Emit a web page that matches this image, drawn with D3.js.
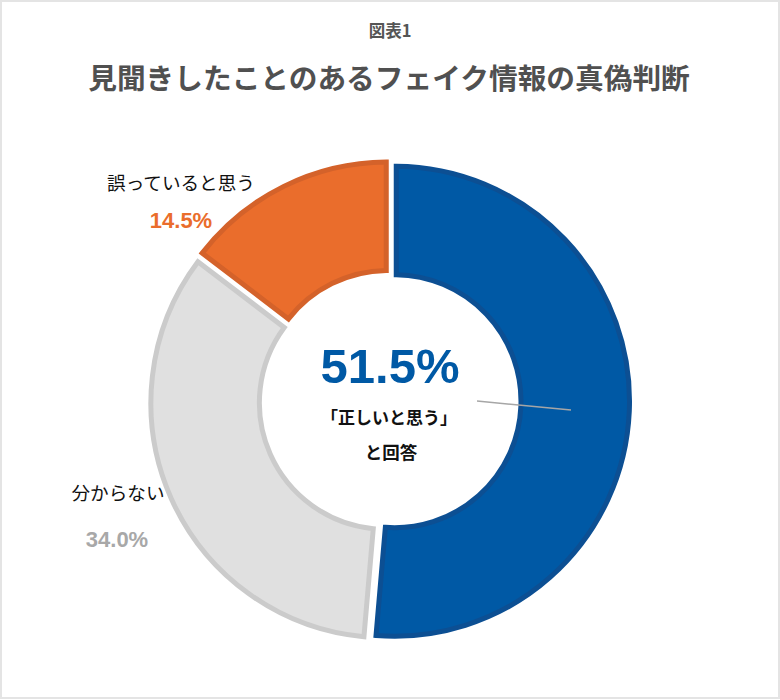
<!DOCTYPE html>
<html>
<head>
<meta charset="utf-8">
<script src="https://cdn.jsdelivr.net/npm/d3@7"></script>
<style>
  html, body { margin: 0; padding: 0; background: #ffffff; }
  svg { display: block; }
</style>
</head>
<body>
<svg id="chart" width="780" height="700"></svg>
<script>
const categories = ["正しいと思う", "分からない", "誤っていると思う"];
const values = [51.5, 34.0, 14.5];
const valueLabels = ["51.5%", "34.0%", "14.5%"];
const fillColors = ["#0059a5", "#e0e0e0", "#ea6d2c"];
const strokeColors = ["#0c4f93", "#cbcbcb", "#d4622a"];
const figureLabel = "図表1";
const title = "見聞きしたことのあるフェイク情報の真偽判断";

const W = 780, H = 700;
const cx = 390, cy = 401;
const outerR = 235, innerR = 126.5;
const explode = 4.5;

const svg = d3.select("#chart");
const jp = "'Noto Sans CJK JP', 'Noto Sans', sans-serif";
const num = "'Liberation Sans', Arial, sans-serif";

// frame
svg.append("rect").attr("x", 1).attr("y", 1).attr("width", W - 2).attr("height", H - 3)
  .attr("fill", "#fff").attr("stroke", "#e4e4e4").attr("stroke-width", 2);

// titles
svg.append("text").attr("x", 390).attr("y", 37).attr("text-anchor", "middle")
  .attr("font-family", jp).attr("font-weight", "bold").attr("font-size", 16.5)
  .attr("fill", "#555").text(figureLabel);
svg.append("text").attr("x", 389).attr("y", 89).attr("text-anchor", "middle")
  .attr("font-family", jp).attr("font-weight", "bold").attr("font-size", 28.7)
  .attr("fill", "#505050").text(title);

const data = categories.map((c, i) => ({ cat: c, value: values[i], i }));
const pie = d3.pie().value(d => d.value).sort(null).startAngle(0).endAngle(2 * Math.PI)
  .padAngle(3.5 / outerR);
const arc = d3.arc().innerRadius(innerR).outerRadius(outerR).padRadius(outerR);
const arcs = pie(data);

const g = svg.append("g").attr("transform", `translate(${cx},${cy})`);
g.selectAll("path.slice").data(arcs).enter().append("path")
  .attr("class", "slice")
  .attr("d", arc)
  .attr("transform", d => {
    const a = (d.startAngle + d.endAngle) / 2;
    return `translate(${explode * Math.sin(a)},${-explode * Math.cos(a)})`;
  })
  .attr("fill", d => fillColors[d.data.i])
  .attr("stroke", d => strokeColors[d.data.i])
  .attr("stroke-width", 5)
  .attr("stroke-linejoin", "miter");

// leader line from center label into blue slice
svg.append("line").attr("x1", 477).attr("y1", 401).attr("x2", 571).attr("y2", 410)
  .attr("stroke", "#a6a6a6").attr("stroke-width", 1.5);

// center label
svg.append("text").attr("x", 390).attr("y", 383).attr("text-anchor", "middle")
  .attr("font-family", num).attr("font-weight", "bold").attr("font-size", 49)
  .attr("fill", "#0059a5").text(valueLabels[0]);
svg.append("text").attr("x", 389).attr("y", 424).attr("text-anchor", "middle")
  .attr("font-family", jp).attr("font-weight", "bold").attr("font-size", 17)
  .attr("fill", "#111").text("「" + categories[0] + "」");
svg.append("text").attr("x", 391).attr("y", 459).attr("text-anchor", "middle")
  .attr("font-family", jp).attr("font-weight", "bold").attr("font-size", 17.5)
  .attr("fill", "#111").text("と回答");

// orange label
svg.append("text").attr("x", 181).attr("y", 190).attr("text-anchor", "middle")
  .attr("font-family", jp).attr("font-size", 18.6)
  .attr("fill", "#111").text(categories[2]);
svg.append("text").attr("x", 181).attr("y", 228).attr("text-anchor", "middle")
  .attr("font-family", num).attr("font-weight", "bold").attr("font-size", 22)
  .attr("fill", "#ea6d2c").text(valueLabels[2]);

// gray label
svg.append("text").attr("x", 118).attr("y", 500).attr("text-anchor", "middle")
  .attr("font-family", jp).attr("font-size", 18.6)
  .attr("fill", "#111").text(categories[1]);
svg.append("text").attr("x", 117).attr("y", 547).attr("text-anchor", "middle")
  .attr("font-family", num).attr("font-weight", "bold").attr("font-size", 22)
  .attr("fill", "#a8a8a8").text(valueLabels[1]);
</script>
</body>
</html>
